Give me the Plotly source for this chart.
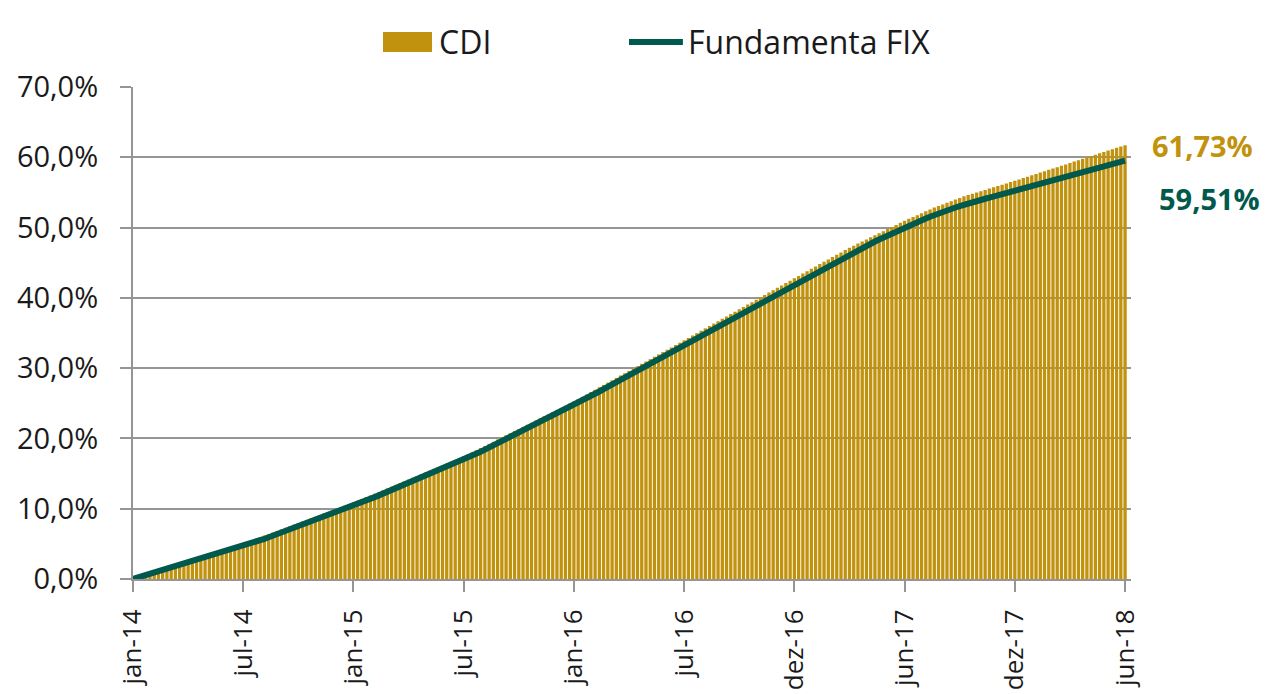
import plotly.graph_objects as go

# Weekly cumulative returns (%), jan-14 .. jun-18
cdi = [
    0.00, 0.19, 0.39, 0.58, 0.78, 0.97, 1.16, 1.36, 1.55, 1.75, 1.94, 2.13, 2.33,
    2.52, 2.72, 2.91, 3.10, 3.30, 3.49, 3.69, 3.88, 4.07, 4.27, 4.46, 4.66, 4.85,
    5.04, 5.27, 5.49, 5.72, 5.94, 6.17, 6.39, 6.62, 6.84, 7.06, 7.29, 7.51, 7.74,
    7.96, 8.19, 8.41, 8.64, 8.86, 9.09, 9.31, 9.53, 9.76, 9.98, 10.21, 10.43, 10.66,
    10.88, 11.13, 11.38, 11.64, 11.89, 12.14, 12.39, 12.64, 12.89, 13.14, 13.40, 13.65, 13.90,
    14.15, 14.40, 14.65, 14.91, 15.16, 15.41, 15.66, 15.91, 16.16, 16.41, 16.67, 16.92, 17.17,
    17.42, 17.72, 18.02, 18.32, 18.63, 18.93, 19.23, 19.53, 19.83, 20.13, 20.44, 20.74, 21.04,
    21.34, 21.64, 21.94, 22.24, 22.55, 22.85, 23.15, 23.45, 23.75, 24.05, 24.35, 24.66, 24.96,
    25.26, 25.59, 25.93, 26.26, 26.60, 26.93, 27.27, 27.60, 27.94, 28.27, 28.61, 28.94, 29.27,
    29.61, 29.94, 30.28, 30.61, 30.95, 31.28, 31.62, 31.95, 32.29, 32.62, 32.95, 33.29, 33.62,
    33.96, 34.30, 34.64, 34.98, 35.32, 35.66, 36.00, 36.34, 36.68, 37.02, 37.35, 37.69, 38.03,
    38.37, 38.71, 39.05, 39.39, 39.73, 40.07, 40.41, 40.75, 41.09, 41.43, 41.77, 42.11, 42.45,
    42.79, 43.12, 43.46, 43.79, 44.13, 44.46, 44.80, 45.13, 45.47, 45.80, 46.13, 46.47, 46.80,
    47.14, 47.43, 47.73, 48.02, 48.32, 48.61, 48.91, 49.20, 49.49, 49.79, 50.08, 50.38, 50.67,
    50.97, 51.24, 51.50, 51.77, 52.04, 52.31, 52.58, 52.85, 53.08, 53.30, 53.53, 53.76, 53.99,
    54.22, 54.45, 54.63, 54.81, 55.00, 55.18, 55.36, 55.55, 55.73, 55.91, 56.10, 56.28, 56.47,
    56.65, 56.84, 57.04, 57.24, 57.43, 57.63, 57.82, 58.02, 58.21, 58.41, 58.60, 58.80, 58.99,
    59.19, 59.39, 59.58, 59.78, 59.97, 60.17, 60.36, 60.56, 60.75, 60.95, 61.15, 61.34, 61.54,
    61.73,
]

fix = [
    0.00, 0.18, 0.35, 0.53, 0.71, 0.89, 1.06, 1.24, 1.42, 1.59, 1.77, 1.95, 2.12,
    2.30, 2.48, 2.66, 2.83, 3.01, 3.19, 3.36, 3.54, 3.72, 3.89, 4.07, 4.25, 4.43,
    4.60, 4.82, 5.05, 5.27, 5.49, 5.72, 5.94, 6.16, 6.38, 6.61, 6.83, 7.05, 7.28,
    7.50, 7.72, 7.95, 8.17, 8.39, 8.61, 8.84, 9.06, 9.28, 9.51, 9.73, 9.95, 10.18,
    10.40, 10.65, 10.90, 11.15, 11.40, 11.65, 11.90, 12.15, 12.40, 12.65, 12.90, 13.15, 13.40,
    13.65, 13.90, 14.15, 14.40, 14.65, 14.90, 15.15, 15.40, 15.65, 15.90, 16.15, 16.40, 16.65,
    16.90, 17.20, 17.50, 17.80, 18.10, 18.40, 18.70, 19.00, 19.30, 19.60, 19.90, 20.20, 20.50,
    20.80, 21.10, 21.40, 21.70, 22.00, 22.30, 22.60, 22.90, 23.20, 23.50, 23.80, 24.10, 24.40,
    24.70, 25.03, 25.36, 25.69, 26.02, 26.35, 26.68, 27.01, 27.34, 27.67, 28.00, 28.33, 28.66,
    28.99, 29.32, 29.65, 29.98, 30.31, 30.64, 30.97, 31.30, 31.63, 31.96, 32.29, 32.62, 32.95,
    33.28, 33.62, 33.95, 34.29, 34.62, 34.96, 35.29, 35.63, 35.96, 36.30, 36.63, 36.97, 37.30,
    37.64, 37.97, 38.31, 38.64, 38.98, 39.31, 39.65, 39.98, 40.32, 40.65, 40.99, 41.32, 41.66,
    41.99, 42.32, 42.65, 42.98, 43.31, 43.64, 43.97, 44.30, 44.63, 44.96, 45.29, 45.62, 45.95,
    46.28, 46.57, 46.86, 47.15, 47.44, 47.73, 48.02, 48.31, 48.60, 48.89, 49.18, 49.47, 49.76,
    50.05, 50.30, 50.55, 50.80, 51.05, 51.30, 51.55, 51.80, 52.01, 52.22, 52.43, 52.64, 52.85,
    53.06, 53.27, 53.44, 53.60, 53.77, 53.93, 54.10, 54.26, 54.43, 54.59, 54.76, 54.92, 55.09,
    55.25, 55.41, 55.58, 55.74, 55.91, 56.07, 56.23, 56.40, 56.56, 56.73, 56.89, 57.05, 57.22,
    57.38, 57.55, 57.71, 57.87, 58.04, 58.20, 58.37, 58.53, 58.69, 58.86, 59.02, 59.19, 59.35,
    59.51,
]

tick_labels = ["jan-14", "jul-14", "jan-15", "jul-15", "jan-16",
               "jul-16", "dez-16", "jun-17", "dez-17", "jun-18"]
weeks_per_tick = 26
series_names = ["CDI", "Fundamenta FIX"]

assert len(cdi) == len(fix)
weeks = list(range(len(cdi)))
tick_positions = weeks[::weeks_per_tick]

GOLD = "#C1920E"
TEAL = "#00594C"
GRID = "#959595"
FONT = "Open Sans, Noto Sans, DejaVu Sans, sans-serif"
TXT = "#1a1a1a"

fig = go.Figure()
fig.add_trace(go.Bar(x=weeks, y=cdi, name=series_names[0], showlegend=False,
                     marker=dict(color=GOLD, line=dict(width=0))))
fig.add_trace(go.Scatter(x=weeks, y=fix, name=series_names[1], mode="lines", showlegend=False,
                         line=dict(color=TEAL, width=6)))

# end-value labels
fig.add_annotation(x=weeks[-1], y=cdi[-1], text="<b>61,73%</b>", showarrow=False,
                   xanchor="left", yanchor="middle", xshift=25,
                   font=dict(family=FONT, size=29, color=GOLD))
fig.add_annotation(x=weeks[-1], y=fix[-1], text="<b>59,51%</b>", showarrow=False,
                   xanchor="left", yanchor="middle", xshift=32, yshift=-38,
                   font=dict(family=FONT, size=29, color=TEAL))

# legend (swatches + real text) above the plot
fig.add_shape(type="rect", xref="paper", yref="paper", x0=0.2505, x1=0.2996, y0=1.0711, y1=1.1118,
              fillcolor=GOLD, line=dict(width=0))
fig.add_shape(type="line", xref="paper", yref="paper", x0=0.497, x1=0.551, y0=1.0915, y1=1.0915,
              line=dict(color=TEAL, width=6))
fig.add_annotation(xref="paper", yref="paper", x=0.3046, y=1.0915, text=series_names[0],
                   showarrow=False, xanchor="left", yanchor="middle",
                   font=dict(family=FONT, size=32, color=TXT))
fig.add_annotation(xref="paper", yref="paper", x=0.5541, y=1.0915, text=series_names[1],
                   showarrow=False, xanchor="left", yanchor="middle",
                   font=dict(family=FONT, size=32, color=TXT))

fig.update_layout(
    width=1260, height=686,
    margin=dict(l=125, r=137, t=79, b=115),
    paper_bgcolor="white", plot_bgcolor="white",
    bargap=0.22,
    separators=",.",
    font=dict(family=FONT, size=29, color=TXT),
    showlegend=False,
    xaxis=dict(range=[0, 235.4], tickmode="array", tickvals=tick_positions, ticktext=tick_labels,
               tickangle=-90, ticks="outside", ticklen=11, tickwidth=2, tickcolor=GRID,
               showline=True, linecolor=GRID, linewidth=2, showgrid=False, zeroline=False,
               automargin=False, ticklabelstandoff=7,
               tickfont=dict(family=FONT, size=26, color=TXT)),
    yaxis=dict(range=[0, 70], dtick=10, tickformat=".1f", ticksuffix="%",
               ticks="outside", ticklen=11, tickwidth=2, tickcolor=GRID,
               showline=True, linecolor=GRID, linewidth=2,
               showgrid=True, gridcolor=GRID, gridwidth=2, zeroline=False,
               automargin=False, ticklabelstandoff=16,
               tickfont=dict(family=FONT, size=29, color=TXT)),
)

fig.write_html("out.html")
